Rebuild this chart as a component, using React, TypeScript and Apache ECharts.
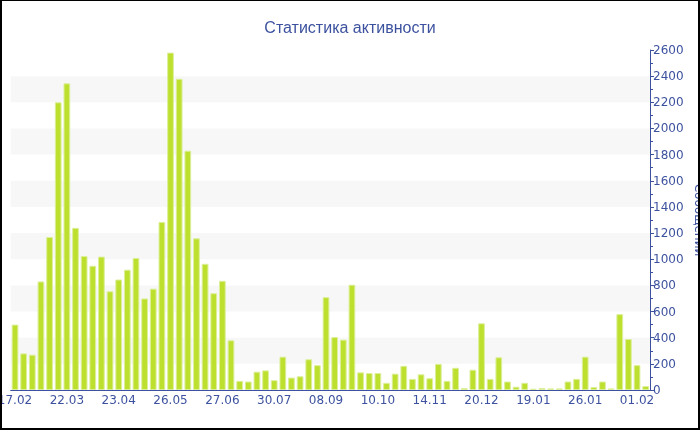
import React, { useEffect, useRef } from "react";
import * as echarts from "echarts";

const TITLE = "Статистика активности";
const Y_NAME = "Сообщений";

// Labels visible under every sixth bar
const tickLabels = [
  "17.02", "22.03", "23.04", "26.05", "27.06", "30.07", "08.09",
  "10.10", "14.11", "20.12", "19.01", "26.01", "01.02",
];

const messages = [
  500, 280, 270, 830, 1170, 2200, 2345, 1240, 1025, 950,
  1020, 755, 845, 920, 1010, 700, 775, 1285, 2580, 2380,
  1830, 1160, 965, 740, 835, 380, 70, 65, 140, 150,
  75, 255, 95, 105, 235, 190, 710, 405, 385, 805,
  135, 130, 130, 55, 125, 185, 85, 120, 90, 200,
  70, 170, 15, 155, 510, 85, 250, 65, 25, 55,
  10, 15, 12, 12, 65, 85, 255, 23, 65, 12,
  580, 390, 190, 30,
];

// one category per bar; only every sixth one carries a readable label
const categories = messages.map((_, i) => (i % 6 === 0 ? tickLabels[i / 6] ?? "" : ""));

const BLUE = "#3d529f";

export default function App() {
  const ref = useRef<HTMLDivElement>(null);
  useEffect(() => {
    if (!ref.current) return;
    const chart = echarts.init(ref.current, undefined, { renderer: "svg" });
    chart.setOption({
      animation: false,
      title: {
        text: TITLE,
        left: "center",
        top: 14,
        textStyle: {
          color: BLUE,
          fontSize: 16,
          fontWeight: "normal",
          fontFamily: "Liberation Sans",
        },
      },
      grid: { left: 10.7, right: 50, top: 50, bottom: 40, outerBoundsMode: "none", containLabel: false },
      xAxis: {
        type: "category",
        data: categories,
        boundaryGap: true,
        axisLine: { lineStyle: { color: BLUE, width: 1 } },
        axisTick: { alignWithLabel: true, interval: 5, length: 4, lineStyle: { color: BLUE } },
        axisLabel: {
          interval: 5,
          color: BLUE,
          fontSize: 12,
          fontFamily: "DejaVu Sans",
          margin: 4,
        },
        splitLine: { show: false },
      },
      yAxis: {
        type: "value",
        position: "right",
        min: 0,
        max: 2600,
        interval: 200,
        name: Y_NAME,
        nameLocation: "middle",
        nameRotate: -90,
        nameGap: 43,
        nameMoveOverlap: false,
        nameTextStyle: { color: BLUE, fontSize: 12, fontFamily: "DejaVu Sans" },
        axisLine: { show: true, lineStyle: { color: BLUE, width: 1 } },
        axisTick: { show: true, length: 4, lineStyle: { color: BLUE } },
        minorTick: { show: true, splitNumber: 2, length: 3, lineStyle: { color: BLUE } },
        axisLabel: {
          color: BLUE,
          fontSize: 12,
          fontFamily: "DejaVu Sans",
          margin: 3,
          formatter: (v: number) => String(v),
        },
        splitLine: { show: false },
        splitArea: {
          show: true,
          areaStyle: { color: ["rgba(255,255,255,0)", "#f7f7f7"] },
        },
      },
      series: [
        {
          type: "bar",
          data: messages,
          barWidth: "78%",
          itemStyle: {
            color: "#bde02f",
            borderColor: "#dcef9a",
            borderWidth: 1,
          },
        },
      ],
    });
    return () => chart.dispose();
  }, []);

  return (
    <div style={{ position: "fixed", left: 0, top: 0, width: 700, height: 430 }}>
      <div ref={ref} style={{ position: "absolute", left: 0, top: 0, width: 700, height: 430 }} />
      <div
        style={{
          position: "absolute",
          left: 0,
          top: 0,
          width: 700,
          height: 430,
          boxSizing: "border-box",
          borderTop: "1px solid #000",
          borderLeft: "2px solid #000",
          borderRight: "2px solid #000",
          borderBottom: "2px solid #000",
          pointerEvents: "none",
        }}
      />
    </div>
  );
}
